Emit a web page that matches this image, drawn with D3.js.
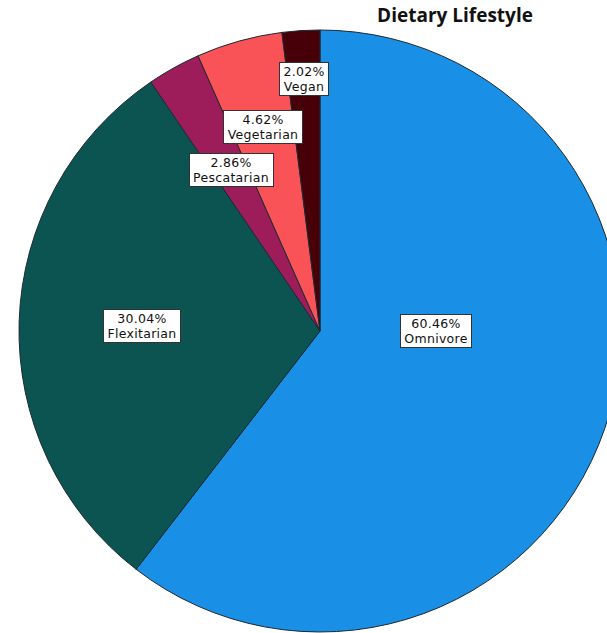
<!DOCTYPE html>
<html>
<head>
<meta charset="utf-8">
<script src="https://cdn.jsdelivr.net/npm/d3@7"></script>
<style>
  body { margin: 0; background: #fff; }
</style>
</head>
<body>
<div id="chart"></div>
<script>
// Data
const categories = ["Omnivore", "Flexitarian", "Pescatarian", "Vegetarian", "Vegan"];
const percents = [60.46, 30.04, 2.86, 4.62, 2.02];
const sliceColors = ["#1a8fe6", "#0b5452", "#9c1d5a", "#fa5357", "#470007"];

// label placement (angle override in degrees or null = slice middle, radius fraction)
const labelLayout = [
    { angle: 90, r: 0.384 },
    { angle: null, r: 0.59 },
    { angle: null, r: 0.61 },
    { angle: null, r: 0.705 },
    { angle: null, r: 0.838 }
];

const dimensions = { width: 607, height: 633 };
const cx = 320, cy = 331, radius = 301;

const svg = d3.select("#chart")
    .append("svg")
    .attr("width", dimensions.width)
    .attr("height", dimensions.height);

const dataset = categories.map((c, i) => ({ name: c, value: percents[i], color: sliceColors[i] }));

const pie = d3.pie().sort(null).value(d => d.value);
const arc = d3.arc().innerRadius(0).outerRadius(radius);
const arcs = pie(dataset);

const bounds = svg.append("g")
    .attr("transform", `translate(${cx}, ${cy})`);

bounds.selectAll("path")
    .data(arcs)
    .enter().append("path")
    .attr("d", arc)
    .attr("fill", d => d.data.color)
    .attr("stroke", "#1c2a33")
    .attr("stroke-width", 1)
    .attr("stroke-linejoin", "round");

// labels
const fmt = d3.format(".2f");
const labels = bounds.selectAll(".label")
    .data(arcs)
    .enter().append("g")
    .attr("class", "label")
    .attr("transform", (d, i) => {
        const lay = labelLayout[i];
        const a = lay.angle !== null ? lay.angle * Math.PI / 180 : (d.startAngle + d.endAngle) / 2;
        const r = lay.r * radius;
        return `translate(${Math.round(r * Math.sin(a))}, ${Math.round(-r * Math.cos(a))})`;
    });

const box = labels.append("rect")
    .attr("fill", "#fff")
    .attr("stroke", "#333")
    .attr("stroke-width", 1);

const txt = labels.append("text")
    .attr("text-anchor", "middle")
    .style("font-family", "'DejaVu Sans', Verdana, sans-serif")
    .style("font-size", "12.5px")
    .style("letter-spacing", "0.3px")
    .attr("fill", "#111");

txt.append("tspan")
    .attr("x", 0)
    .attr("y", -3)
    .text(d => fmt(d.data.value) + "%");

txt.append("tspan")
    .attr("x", 0)
    .attr("y", 12)
    .text(d => d.data.name);

txt.each(function(d, i) {
    const bb = this.getBBox();
    const w = Math.round(bb.width + 8);
    d3.select(box.nodes()[i])
        .attr("x", -Math.round(w / 2) + 0.5)
        .attr("y", -16.5)
        .attr("width", w)
        .attr("height", 33);
});

// title
svg.append("text")
    .attr("x", 455)
    .attr("y", 22)
    .attr("text-anchor", "middle")
    .style("font-family", "'Open Sans', sans-serif")
    .style("font-weight", "bold")
    .style("font-size", "19px")
    .attr("fill", "#111")
    .text("Dietary Lifestyle");
</script>
</body>
</html>
